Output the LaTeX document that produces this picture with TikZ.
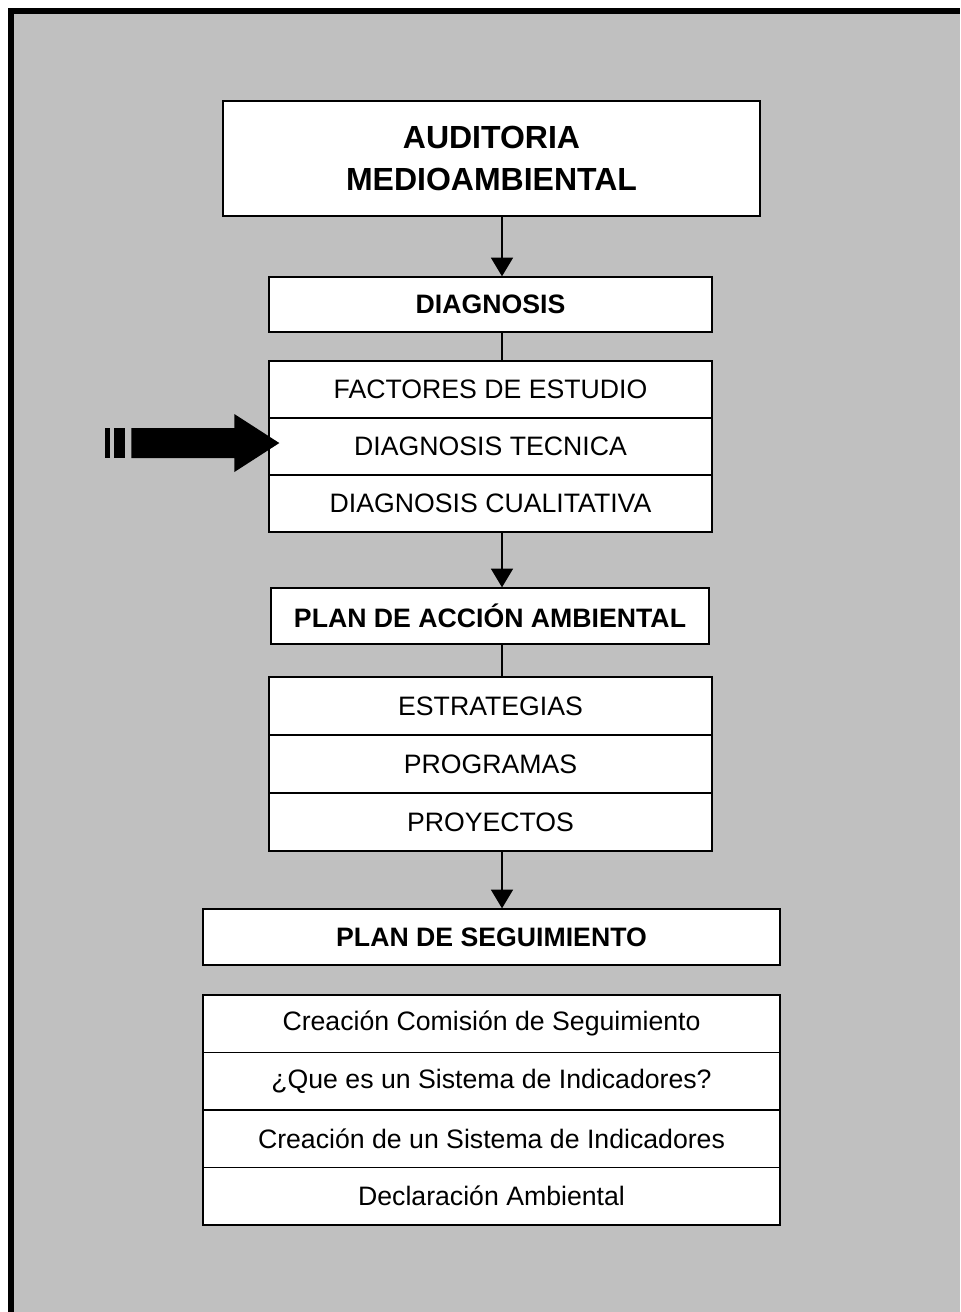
\documentclass[tikz,border=0pt]{standalone}
\usepackage{fontspec}
\setmainfont{Liberation Sans}
\usetikzlibrary{arrows.meta}
\definecolor{panel}{RGB}{192,192,192}
\tikzset{
  box/.style={draw=black, line width=1pt, fill=white, inner sep=0pt, align=center,
    font=\fontsize{20}{24}\selectfont},
  head/.style={box, font=\fontsize{20}{24}\selectfont\bfseries},
  flow/.style={line width=1pt, -{Triangle[width=16.5pt,length=14pt]}},
  link/.style={line width=1pt}
}
\begin{document}
\begin{tikzpicture}[x=0.75pt,y=-0.75pt]
\useasboundingbox (0,0) rectangle (960,1312);
% background panel
\fill[panel] (11,11) rectangle (960,1312);
\draw[line width=4.5pt] (11,1312) -- (11,11) -- (960,11);

% title
\node[box, minimum width=402.75pt, minimum height=86.25pt,
  font=\fontsize{24}{31}\selectfont\bfseries] (aud) at (491.5,158.5) {AUDITORIA\\MEDIOAMBIENTAL};

% diagnosis
\node[head, minimum width=332.25pt, minimum height=41.25pt] (diag) at (490.5,304.5) {DIAGNOSIS};
\node[box, minimum width=332.25pt, minimum height=42.75pt] (fac) at (490.5,389.5) {FACTORES DE ESTUDIO};
\node[box, minimum width=332.25pt, minimum height=42.75pt] (tec) at (490.5,446.5) {DIAGNOSIS TECNICA};
\node[box, minimum width=332.25pt, minimum height=42.75pt] (cua) at (490.5,503.5) {DIAGNOSIS CUALITATIVA};

% plan de accion
\node[head, minimum width=328.5pt, minimum height=42pt] (acc) at (490,616) {PLAN DE ACCIÓN AMBIENTAL};
\node[box, minimum width=332.25pt, minimum height=43.5pt] (est) at (490.5,706) {ESTRATEGIAS};
\node[box, minimum width=332.25pt, minimum height=43.5pt] (pro) at (490.5,764) {PROGRAMAS};
\node[box, minimum width=332.25pt, minimum height=43.5pt] (pry) at (490.5,822) {PROYECTOS};

% plan de seguimiento
\node[head, minimum width=432.75pt, minimum height=42pt] (seg) at (491.5,937) {PLAN DE SEGUIMIENTO};
\node[box, minimum width=432.75pt, minimum height=43.125pt] (com) at (491.5,1023.75) {Creación Comisión de Seguimiento};
\node[box, minimum width=432.75pt, minimum height=43.125pt] (que) at (491.5,1081.25) {¿Que es un Sistema de Indicadores?};
\node[box, minimum width=432.75pt, minimum height=43.125pt] (cre) at (491.5,1138.75) {Creación de un Sistema de Indicadores};
\node[box, minimum width=432.75pt, minimum height=43.125pt] (dec) at (491.5,1196.25) {Declaración Ambiental};

% connectors
\coordinate (axis) at (502,0);
\draw[flow] (aud.south -| axis) -- (diag.north -| axis);
\draw[link] (diag.south -| axis) -- (fac.north -| axis);
\draw[flow] (cua.south -| axis) -- (acc.north -| axis);
\draw[link] (acc.south -| axis) -- (est.north -| axis);
\draw[flow] (pry.south -| axis) -- (seg.north -| axis);

% striped arrow
\coordinate (tip) at ([xshift=8.25pt, yshift=2.6pt]tec.west);
\fill (tip) -- ++(-45,-29) -- ++(0,14) -- ++(-103,0) -- ++(0,30) -- ++(103,0) -- ++(0,14) -- cycle;
\fill ([xshift=-5.25pt]tip) ++(-147,-15) rectangle ++(-11,30);
\fill ([xshift=-5.25pt]tip) ++(-162,-15) rectangle ++(-5,30);
\end{tikzpicture}
\end{document}
